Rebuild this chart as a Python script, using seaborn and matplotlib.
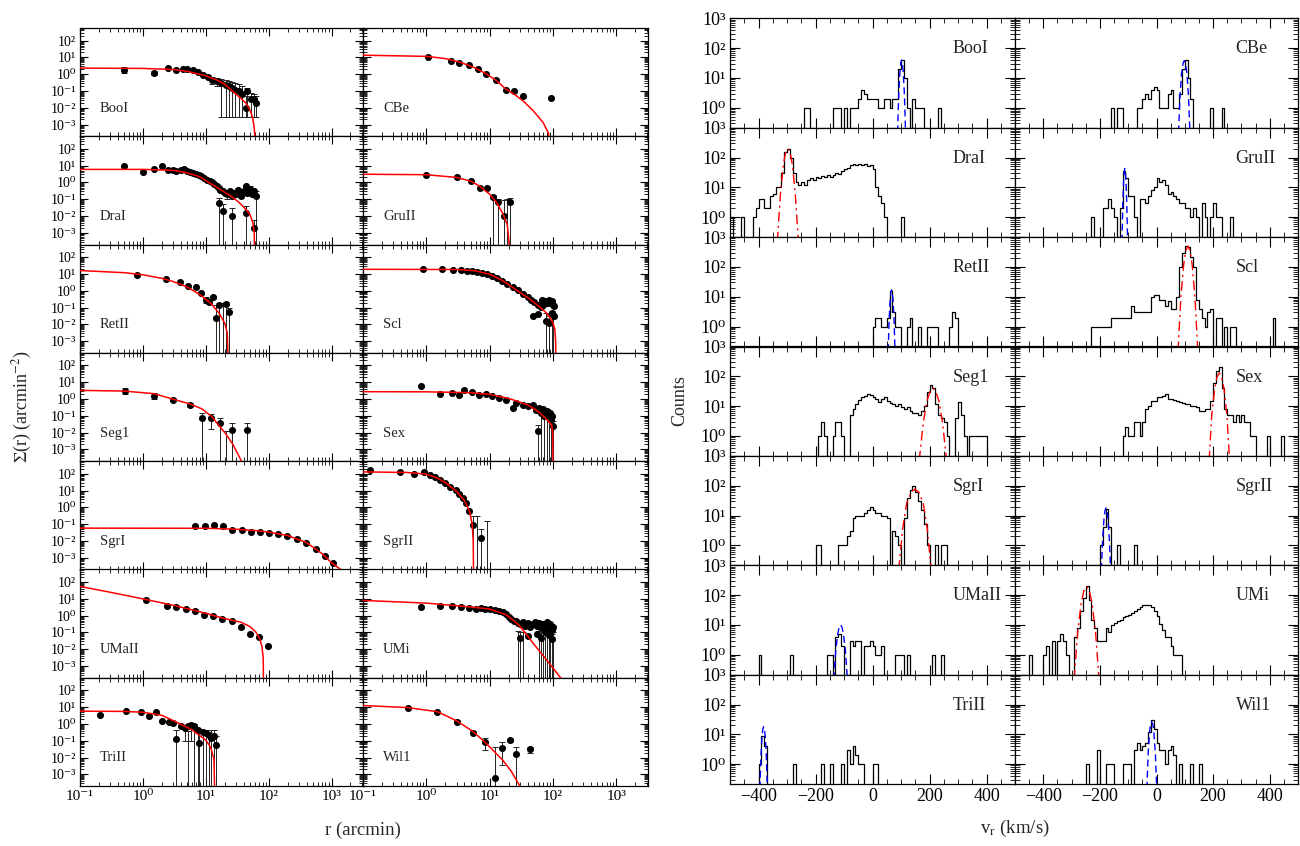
import numpy as np
import matplotlib
matplotlib.use("Agg")
import matplotlib.pyplot as plt
import seaborn as sns
from matplotlib.ticker import LogLocator, NullFormatter, MultipleLocator, FuncFormatter

sns.set_style("ticks")
plt.rcParams["font.family"] = ["Liberation Serif", "DejaVu Serif"]
plt.rcParams["mathtext.fontset"] = "stix"
plt.rcParams["axes.linewidth"] = 0.9
plt.rcParams["axes.edgecolor"] = "black"

# ===================== surface density profiles (left block) =====================
BOOI_R = [0.5, 1.5, 2.5, 3.4, 4.4, 5.1, 6.2, 7.4, 8.9, 10.7, 12.7, 15, 17.3, 20.8, 23.5, 26.5, 29.5, 33.5, 38, 43, 46, 52, 58, 62]
BOOI_S = [1.7, 1.2, 2.3, 1.7, 2.0, 1.9, 1.7, 1.3, 0.93, 0.68, 0.48, 0.38, 0.30, 0.24, 0.19, 0.15, 0.12, 0.10, 0.063, 0.01, 0.10, 0.032, 0.032, 0.02]
BOOI_EBR = [0.5, 1.5, 12.7, 15, 17.3, 20.8, 23.5, 26.5, 29.5, 33.5, 38, 43, 46, 52, 58, 62]
BOOI_EBLO = [1.1, 0.85, 0.25, 0.2, 0.003, 0.003, 0.003, 0.003, 0.003, 0.003, 0.003, 0.003, 0.003, 0.003, 0.003, 0.003]
BOOI_EBHI = [2.6, 1.6, 0.7, 0.6, 0.5, 0.45, 0.4, 0.35, 0.3, 0.25, 0.2, 0.05, 0.15, 0.08, 0.07, 0.05]
BOOI_FR = [0.1, 1, 3, 5, 10, 15, 20, 26.5, 35, 43, 50, 55, 58, 60, 61]
BOOI_FS = [2.3, 2.2, 1.9, 1.5, 0.8, 0.45, 0.25, 0.1, 0.04, 0.02, 0.008, 0.003, 0.001, 3e-4, 1e-5]

DRAI_R = [0.5, 1.0, 1.5, 2.0, 2.5, 3.0, 3.4, 4.0, 4.5, 5.0, 5.6, 6.3, 7.0, 7.8, 8.5, 9.5, 10.5, 11.5, 12.5, 13.5,
          15, 16, 17, 18.5, 20, 22, 24, 26, 28, 30, 33, 36, 40, 43, 46, 50, 55, 58, 62, 16, 18.7, 26, 43, 58]
DRAI_S = [9.1, 4.3, 6.1, 9.5, 5.3, 5.5, 4.8, 5.2, 6.2, 4.9, 4.5, 3.8, 3.3, 2.8, 2.3, 1.9, 1.5, 1.2, 1.0, 0.8,
          0.6, 0.45, 0.38, 0.30, 0.25, 0.2, 0.3, 0.15, 0.25, 0.2, 0.35, 0.15, 0.3, 0.6, 0.25, 0.4, 0.2, 0.3, 0.15,
          0.058, 0.021, 0.01, 0.015, 0.002]
DRAI_EBR = [16, 18.7, 22, 26, 33, 43, 50, 58, 62]
DRAI_EBLO = [1e-5, 1e-5, 0.1, 1e-5, 0.15, 1e-5, 0.2, 1e-5, 1e-5]
DRAI_EBHI = [0.12, 0.05, 0.3, 0.03, 0.5, 0.04, 0.6, 0.006, 0.3]
DRAI_FR = [0.1, 1, 3, 5, 8, 14, 20, 26, 33, 40, 50, 56, 59, 60]
DRAI_FS = [6.0, 6.0, 5.3, 3.8, 2.2, 0.6, 0.26, 0.14, 0.07, 0.035, 0.013, 0.004, 0.001, 1e-5]

RETII_R = [0.81, 2.3, 3.9, 5.2, 6.9, 8.5, 9.9, 11.2, 13.2, 14.5, 16.3, 20.8, 23.5]
RETII_S = [8.9, 5.0, 3.5, 1.9, 1.6, 0.76, 0.27, 0.22, 0.43, 0.025, 0.15, 0.17, 0.057]
RETII_EBR = [0.81, 9.9, 11.2, 13.2, 14.5, 16.3, 18.5, 20.8, 23.5]
RETII_EBLO = [7.5, 0.2, 0.17, 0.33, 1e-5, 1e-5, 1e-5, 1e-5, 1e-5]
RETII_EBHI = [10.5, 0.4, 0.3, 0.5, 0.15, 0.2, 0.2, 0.22, 0.1]
RETII_FR = [0.1, 0.5, 1, 2, 3, 5, 8, 12, 16, 20, 22, 23]
RETII_FS = [16, 12, 9, 5.5, 3.6, 1.7, 0.6, 0.18, 0.05, 0.012, 0.003, 1e-5]

SEG1_R = [0.52, 1.5, 3.0, 5.7, 8.7, 12.3, 16.6, 26, 46]
SEG1_S = [2.9, 1.6, 0.91, 0.43, 0.076, 0.076, 0.038, 0.014, 0.014]
SEG1_EBR = [0.52, 1.5, 3.0, 5.7, 8.7, 12.3, 16.6, 21, 26, 46]
SEG1_EBLO = [1.9, 1.0, 0.75, 0.35, 1e-5, 0.017, 1e-5, 1e-5, 1e-5, 1e-5]
SEG1_EBHI = [4.5, 2.2, 1.1, 0.55, 0.15, 0.13, 0.07, 0.013, 0.038, 0.038]
SEG1_FR = [0.1, 0.5, 1.5, 3, 5.7, 8.7, 12.3, 16.6, 21, 27, 37, 40]
SEG1_FS = [3.3, 3.0, 2.1, 1.0, 0.5, 0.26, 0.095, 0.024, 0.008, 0.002, 2e-4, 1e-4]

SGRI_R = [6.7, 9.6, 13.5, 18.8, 26, 37, 52, 72, 100, 141, 198, 283, 398, 560, 780, 1070]
SGRI_S = [0.083, 0.083, 0.095, 0.076, 0.042, 0.044, 0.035, 0.035, 0.030, 0.025, 0.021, 0.013, 0.0078, 0.0034, 0.00125, 0.00046]
SGRI_FR = [0.1, 10, 30, 60, 100, 200, 400, 700, 1000, 1400]
SGRI_FS = [0.058, 0.057, 0.05, 0.042, 0.034, 0.021, 0.008, 0.0018, 0.0005, 0.0002]

UMAII_R = [1.12, 2.4, 3.4, 4.8, 6.7, 9.3, 13.2, 18.2, 25.7, 36, 50, 71, 99]
UMAII_S = [9.0, 4.0, 3.2, 2.5, 1.8, 1.15, 0.91, 0.67, 0.47, 0.21, 0.083, 0.052, 0.015]
UMAII_FR = [0.1, 0.3, 1, 3, 10, 18, 26, 36, 50, 62, 71, 78, 82, 83]
UMAII_FS = [55, 25, 10, 4.2, 1.4, 0.74, 0.54, 0.41, 0.23, 0.11, 0.048, 0.015, 0.003, 1e-5]

TRIII_R = [0.21, 0.53, 0.95, 1.26, 1.6, 2.0, 2.6, 3.0, 3.4, 4.1, 4.6, 5.2, 5.8, 6.6, 7.4, 7.9, 8.9, 10, 11.2, 12, 13.7, 14.5]
TRIII_S = [3.2, 6.0, 4.9, 2.8, 5.0, 1.6, 1.4, 1.1, 0.12, 0.71, 0.56, 0.78, 0.89, 0.81, 0.45, 0.07, 0.35, 0.28, 0.22, 0.14, 0.19, 0.056]
TRIII_EBR = [3.4, 4.6, 5.2, 5.8, 6.6, 7.4, 7.9, 8.9, 10, 11.2, 12, 13.7, 14.5]
TRIII_EBLO = [1e-5, 0.1, 1e-5, 0.1, 1e-5, 1e-5, 1e-5, 1e-5, 1e-5, 1e-5, 1e-5, 1e-5, 1e-5]
TRIII_EBHI = [0.45, 0.9, 0.4, 1.1, 1.0, 0.5, 0.3, 0.45, 0.45, 0.35, 0.45, 0.45, 0.2]
TRIII_FR = [0.1, 0.5, 1, 2, 3.4, 6, 10, 12, 13.5, 14]
TRIII_FS = [5.8, 5.6, 5.0, 3.3, 1.3, 0.45, 0.11, 0.04, 0.008, 1e-5]

CBE_R = [1.07, 2.45, 3.3, 4.7, 6.6, 8.9, 12.6, 17.8, 24.5, 33.5, 93]
CBE_S = [10, 5.7, 4.4, 3.5, 2.0, 1.07, 0.44, 0.12, 0.093, 0.051, 0.037]
CBE_FR = [0.1, 1, 2, 3.5, 6, 9, 13, 18, 25, 34, 49, 70, 85, 88]
CBE_FS = [13.5, 11.5, 8.5, 5, 2.3, 1.0, 0.4, 0.13, 0.06, 0.025, 0.0065, 0.0013, 0.0003, 1e-5]

GRUII_R = [1.0, 3.0, 5.0, 7.0, 9.2, 11.4, 13.7, 16.6, 21]
GRUII_S = [2.9, 2.0, 1.2, 0.49, 0.45, 0.14, 0.072, 0.01, 0.072]
GRUII_EBR = [11.4, 13.7, 16.6, 19, 21]
GRUII_EBLO = [1e-5, 1e-5, 1e-5, 1e-5, 1e-5]
GRUII_EBHI = [0.17, 0.1, 0.09, 0.1, 0.12]
GRUII_FR = [0.1, 1, 3, 5, 7, 10, 13, 16, 19, 22]
GRUII_FS = [3.1, 2.9, 2.0, 1.2, 0.6, 0.2, 0.06, 0.015, 0.003, 1e-5]

SCL_R = [0.87, 1.74, 2.6, 3.5, 4.4, 5.3, 6.3, 7.6, 9.2, 11, 13.2, 15.8, 19, 23, 27.6, 33, 40, 45, 50, 57,
         64, 66, 70, 75, 80, 85, 90, 95, 100, 105, 48, 57, 78, 88, 95, 102]
SCL_S = [19, 19, 16.7, 16.7, 16, 15, 14, 11.7, 9.8, 7.5, 5.7, 4.0, 2.6, 1.6, 1.05, 0.67, 0.43, 0.30, 0.22, 0.14,
         0.11, 0.3, 0.15, 0.25, 0.18, 0.3, 0.2, 0.25, 0.15, 0.12, 0.03, 0.04, 0.015, 0.012, 0.05, 0.03]
SCL_EBR = [78, 85, 88, 95, 100]
SCL_EBLO = [1e-5, 1e-5, 1e-5, 1e-5, 1e-5]
SCL_EBHI = [0.05, 0.04, 0.03, 0.06, 0.05]
SCL_FR = [0.1, 3, 6, 10, 15, 20, 30, 45, 60, 80, 90, 100, 107, 110, 112]
SCL_FS = [19, 18.5, 15.5, 9.5, 4.6, 2.3, 0.8, 0.28, 0.12, 0.045, 0.025, 0.012, 0.005, 0.001, 1e-5]

SEX_R = [0.83, 1.66, 2.5, 3.25, 4.0, 5.2, 6.7, 8.6, 11, 14, 18, 23, 26, 33, 40, 48, 54, 57, 64, 73, 83, 94, 100, 60, 70, 80, 90, 97]
SEX_S = [6.2, 2.1, 2.3, 1.8, 3.3, 2.5, 1.8, 2.1, 1.45, 1.15, 0.91, 0.29, 0.57, 0.47, 0.37, 0.47, 0.23, 0.012, 0.15, 0.095, 0.12, 0.06, 0.024, 0.3, 0.25, 0.2, 0.15, 0.1]
SEX_EBR = [57, 64, 73, 80, 88, 94, 100]
SEX_EBLO = [1e-5, 1e-5, 1e-5, 1e-5, 1e-5, 1e-5, 1e-5]
SEX_EBHI = [0.03, 0.2, 0.15, 0.25, 0.2, 0.1, 0.05]
SEX_FR = [0.1, 1, 5, 10, 20, 40, 60, 80, 95, 99, 100.5]
SEX_FS = [2.75, 2.7, 2.4, 1.9, 1.1, 0.45, 0.17, 0.06, 0.03, 0.01, 1e-5]

SGRII_R = [0.13, 0.39, 0.65, 0.91, 1.15, 1.38, 1.66, 2.0, 2.4, 2.9, 3.25, 3.8, 4.3, 4.8, 5.5, 7.4]
SGRII_S = [173, 120, 100, 125, 87, 63, 44, 28, 16, 10.3, 6.5, 3.6, 1.8, 0.58, 0.095, 0.015]
SGRII_EBR = [5.5, 6.3, 7.4, 9.0]
SGRII_EBLO = [1e-5, 1e-5, 1e-5, 1e-5]
SGRII_EBHI = [0.3, 0.32, 0.05, 0.15]
SGRII_FR = [0.1, 0.5, 1, 1.5, 2, 3, 4, 4.8, 5.3, 5.5, 5.6]
SGRII_FS = [130, 120, 95, 55, 30, 9, 2.5, 0.6, 0.1, 0.01, 1e-5]

UMI_R = [0.83, 1.63, 2.5, 3.5, 4.7, 6.0, 7.2, 8.5, 10, 12, 14, 16, 18, 20, 22, 24, 26, 28, 30, 33,
         36, 40, 44, 48, 52, 56, 60, 65, 70, 75, 80, 85, 90, 95, 100, 30, 40, 55, 65, 75, 85, 95]
UMI_S = [3.2, 3.6, 3.6, 3.3, 2.8, 2.5, 3.0, 2.6, 2.4, 2.2, 2.0, 1.6, 1.2, 0.8, 0.6, 0.45, 0.5, 0.35, 0.3, 0.4,
         0.25, 0.35, 0.2, 0.3, 0.4, 0.25, 0.35, 0.2, 0.3, 0.25, 0.4, 0.2, 0.3, 0.15, 0.2, 0.05, 0.06, 0.08, 0.05, 0.1, 0.07, 0.04]
UMI_EBR = [28, 30, 33, 60, 65, 70, 75, 80, 85, 90, 95, 100]
UMI_EBLO = [1e-5, 1e-5, 1e-5, 1e-5, 1e-5, 1e-5, 1e-5, 1e-5, 1e-5, 1e-5, 1e-5, 1e-5]
UMI_EBHI = [0.12, 0.1, 0.1, 0.12, 0.15, 0.1, 0.12, 0.15, 0.1, 0.12, 0.08, 0.1]
UMI_FR = [0.1, 1, 5, 10, 18, 25, 30, 40, 48, 78, 126, 150]
UMI_FS = [8.1, 5.6, 3.3, 2.5, 1.15, 0.45, 0.23, 0.06, 0.024, 0.0025, 0.00025, 1e-4]

WIL1_R = [0.52, 1.48, 3.0, 5.5, 8.5, 12, 15.8, 20.8, 26.5, 44]
WIL1_S = [8.8, 4.9, 1.4, 0.31, 0.089, 0.00058, 0.036, 0.11, 0.017, 0.031]
WIL1_EBR = [0.52, 3.0, 5.5, 8.5, 12, 15.8, 20.8, 26.5, 44]
WIL1_EBLO = [7.5, 1.2, 0.25, 0.028, 1e-5, 0.0035, 0.09, 1e-5, 0.02]
WIL1_EBHI = [10.5, 1.65, 0.38, 0.14, 0.04, 0.08, 0.13, 0.045, 0.045]
WIL1_FR = [0.1, 0.5, 1.5, 3, 5.5, 8.5, 16, 22, 30]
WIL1_FS = [12.6, 9.5, 5.4, 1.55, 0.35, 0.08, 0.0072, 0.0015, 0.0002]

# ===================== velocity histograms (right block) =====================
# bin left edges (10 km/s bins) with non-zero counts, and the counts
H_BOOI_V = [-240, -230, -140, -130, -120, -100, -80, -70, -60, -50, -40, -30, -20, -10, 0, 10, 20, 30, 40, 50, 60, 70, 80, 90, 100, 110, 120, 140, 150, 160, 170, 230]
H_BOOI_N = [1, 1, 1, 1, 1, 1, 1, 1, 1, 2, 4, 3, 2, 2, 2, 2, 1, 1, 2, 2, 1, 2, 2, 20, 40, 10, 1, 2, 1, 1, 1, 1]
H_CBE_V = [-160, -140, -130, -70, -60, -50, -40, -30, -20, -10, 0, 10, 20, 30, 40, 50, 60, 70, 80, 90, 100, 110, 120, 190, 230]
H_CBE_N = [1, 1, 1, 1, 1, 2, 3, 2, 4, 5, 4, 1, 1, 1, 3, 4, 1, 1, 3, 20, 40, 10, 2, 1, 1]
H_DRAI_V = [-500, -460, -420, -410, -400, -390, -380, -370, -360, -350, -340, -330, -320, -310, -300, -290, -280, -270, -260, -250,
            -240, -230, -220, -210, -200, -190, -180, -170, -160, -150, -140, -130, -120, -110, -100, -90, -80, -70, -60, -50,
            -40, -30, -20, -10, 0, 10, 20, 30, 40, 100]
H_DRAI_N = [1, 1, 1, 2, 4, 4, 2, 2, 5, 6, 10, 10, 30, 150, 200, 100, 30, 15, 12, 15,
            12, 18, 20, 17, 22, 20, 24, 22, 25, 23, 25, 30, 28, 35, 40, 45, 55, 60, 58, 62,
            55, 60, 50, 55, 40, 10, 5, 3, 1, 1]
H_GRUII_V = [-230, -190, -180, -170, -160, -150, -130, -120, -110, -100, -90, -80, -60, -50, -40, -30, -20, -10, 0, 10,
             20, 30, 40, 50, 60, 70, 80, 90, 100, 110, 120, 130, 140, 160, 170, 190, 200, 210, 220, 260]
H_GRUII_N = [1, 2, 2, 4, 2, 1, 2, 35, 20, 5, 5, 1, 4, 4, 3, 5, 8, 10, 20, 15,
             17, 12, 6, 7, 5, 4, 3, 3, 2, 2, 1, 2, 1, 3, 1, 1, 3, 1, 1, 1]
H_RETII_V = [0, 10, 20, 30, 40, 50, 60, 70, 80, 90, 120, 130, 160, 190, 200, 210, 220, 270, 280, 290]
H_RETII_N = [1, 2, 2, 1, 1, 2, 15, 3, 1, 1, 1, 2, 1, 1, 1, 1, 1, 1, 3, 2]
H_SCL_V = [-230, -220, -210, -200, -190, -180, -170, -160, -150, -140, -130, -120, -110, -100, -90, -80, -70, -60, -50, -40,
           -30, -20, -10, 0, 10, 20, 30, 40, 50, 60, 70, 80, 90, 100, 110, 120, 130, 140, 150, 160,
           170, 180, 190, 210, 220, 240, 260, 270, 410]
H_SCL_N = [1, 1, 1, 1, 1, 1, 1, 2, 2, 2, 2, 2, 2, 2, 5, 3, 3, 3, 3, 3,
           3, 10, 11, 11, 8, 8, 5, 7, 4, 4, 10, 100, 300, 500, 450, 220, 100, 8, 4, 2,
           1, 3, 4, 2, 2, 1, 1, 1, 2]
H_SEG1_V = [-190, -180, -170, -140, -130, -120, -110, -80, -70, -60, -50, -40, -30, -20, -10, 0, 10, 20, 30, 40,
            50, 60, 70, 80, 90, 100, 110, 120, 130, 140, 150, 160, 170, 180, 190, 200, 210, 220, 230, 240,
            250, 260, 290, 300, 310, 320, 340, 350, 360, 370, 380, 390]
H_SEG1_N = [1, 3, 1, 1, 3, 3, 1, 5, 8, 12, 16, 20, 22, 26, 24, 20, 18, 14, 18, 20,
            15, 13, 12, 10, 12, 9, 8, 9, 7, 6, 6, 5, 7, 10, 30, 50, 40, 12, 5, 4,
            3, 1, 4, 14, 5, 1, 1, 1, 1, 1, 1, 1]
H_SEX_V = [-120, -110, -100, -90, -80, -70, -60, -50, -40, -30, -20, -10, 0, 10, 20, 30, 40, 50, 60, 70,
           80, 90, 100, 110, 120, 130, 140, 150, 160, 170, 180, 190, 200, 210, 220, 230, 240, 250, 260, 270,
           280, 290, 300, 310, 320, 330, 340, 390, 440]
H_SEX_N = [1, 2, 1, 1, 3, 3, 1, 3, 8, 10, 15, 15, 20, 20, 22, 25, 18, 17, 16, 15,
           14, 13, 12, 12, 10, 10, 9, 7, 7, 8, 8, 15, 60, 150, 210, 40, 8, 5, 5, 3,
           5, 3, 5, 3, 3, 1, 1, 1, 1]
H_SGRI_V = [-200, -190, -120, -110, -100, -90, -80, -70, -60, -50, -40, -30, -20, -10, 0, 10, 20, 30, 40, 50,
            70, 80, 90, 110, 120, 130, 140, 150, 160, 170, 180, 190, 220, 240, 250]
H_SGRI_N = [1, 1, 1, 1, 1, 2, 3, 8, 10, 10, 10, 12, 15, 20, 15, 12, 12, 10, 10, 8,
            3, 2, 1, 8, 40, 70, 100, 60, 30, 15, 5, 1, 1, 1, 1]
H_SGRII_V = [-200, -190, -180, -170, -140, -80]
H_SGRII_N = [1, 4, 17, 4, 1, 1]
H_UMAII_V = [-400, -290, -160, -150, -130, -120, -110, -80, -70, -60, -50, -30, -20, -10, 0, 10, 20, 30, 80, 90, 100, 120, 210, 240]
H_UMAII_N = [1, 1, 1, 1, 4, 5, 2, 3, 2, 3, 3, 2, 2, 3, 2, 1, 1, 2, 1, 1, 1, 1, 1, 1]
H_UMI_V = [-450, -400, -390, -370, -350, -340, -330, -320, -290, -280, -270, -260, -250, -240, -230, -220, -210, -200, -190, -180,
           -170, -160, -150, -140, -130, -120, -110, -100, -90, -80, -70, -60, -50, -40, -30, -20, -10, 0, 10, 20,
           30, 40, 50, 60, 70, 80]
H_UMI_N = [1, 1, 2, 3, 3, 5, 3, 1, 4, 8, 30, 80, 200, 70, 15, 8, 3, 3, 3, 8,
           6, 10, 12, 14, 15, 18, 20, 22, 25, 30, 35, 40, 45, 48, 45, 40, 30, 20, 11, 7,
           4, 4, 2, 1, 1, 1]
H_TRIII_V = [-400, -390, -380, -280, -180, -150, -110, -90, -80, -70, -60, -50, -40, 0, 10]
H_TRIII_N = [1, 9, 4, 1, 1, 1, 1, 3, 1, 4, 2, 1, 1, 1, 1]
H_WIL1_V = [-250, -210, -180, -170, -160, -120, -110, -100, -80, -70, -60, -50, -40, -30, -20, -10, 0, 10, 20, 30, 40, 50, 60, 80, 120, 150]
H_WIL1_N = [1, 3, 1, 1, 1, 1, 1, 1, 3, 5, 3, 4, 5, 12, 30, 15, 5, 3, 3, 1, 3, 4, 2, 1, 1, 1]

# Gaussian fits drawn over the histograms
G_BOOI_V = [88, 92, 96, 99, 102, 105, 108, 112, 116]
G_BOOI_N = [0.15, 2.7, 15, 31, 40, 31, 15, 2.7, 0.15]
G_CBE_V = [78, 83, 88.5, 93.5, 98, 102.5, 107.5, 113, 118]
G_CBE_N = [0.15, 2.5, 14, 30, 38, 30, 14, 2.5, 0.15]
G_DRAI_V = [-334, -323, -313, -305, -297, -289, -281, -271, -260]
G_DRAI_N = [0.15, 6, 56, 146, 200, 146, 56, 6, 0.15]
G_GRUII_V = [-122, -119, -116.3, -114.1, -112, -109.9, -107.7, -105, -102]
G_GRUII_N = [0.15, 2.8, 15, 33, 43, 33, 15, 2.8, 0.15]
G_RETII_V = [55, 58.4, 61.9, 64.4, 67, 69.6, 72.1, 75.6, 79]
G_RETII_N = [0.15, 1.8, 7.5, 14, 17, 14, 7.5, 1.8, 0.15]
G_SCL_V = [76, 86, 96, 103.5, 111, 118.5, 126, 136, 146]
G_SCL_N = [0.15, 9.3, 120, 350, 500, 350, 120, 9.3, 0.15]
G_SEG1_V = [164, 178, 191, 202, 212, 222, 233, 246, 260]
G_SEG1_N = [0.15, 2.7, 15, 31, 40, 31, 15, 2.7, 0.15]
G_SEX_V = [186, 195, 205.7, 214, 222, 230, 238.3, 249, 258]
G_SEX_N = [0.15, 4.8, 39, 96, 130, 96, 39, 4.8, 0.15]
G_SGRI_V = [92, 106, 120, 135, 149, 163, 178, 192, 206]
G_SGRI_N = [0.15, 3.7, 26, 59, 77, 59, 26, 3.7, 0.15]
G_SGRII_V = [-195, -190, -185.5, -182, -178.5, -175, -171.5, -167, -162]
G_SGRII_N = [0.15, 1.8, 7.9, 14.6, 18, 14.6, 7.9, 1.8, 0.15]
G_UMAII_V = [-136, -129, -122, -117, -112, -107, -102, -95, -88]
G_UMAII_N = [0.15, 1.4, 4.9, 8.4, 10, 8.4, 4.9, 1.4, 0.15]
G_UMI_V = [-291, -278.5, -266, -256.5, -247, -237.5, -228, -215.5, -203]
G_UMI_N = [0.15, 5.8, 55, 142, 195, 142, 55, 5.8, 0.15]
G_TRIII_V = [-395, -391.5, -388, -385, -382, -379, -376, -372.5, -369]
G_TRIII_N = [0.15, 1.8, 7.9, 14.6, 18, 14.6, 7.9, 1.8, 0.15]
G_WIL1_V = [-34, -29.5, -25, -21.5, -17, -12.5, -9, -4, 1]
G_WIL1_N = [0.15, 2.2, 10.6, 20.8, 26, 20.8, 10.6, 2.2, 0.15]

LEFT_COL = ["BooI", "DraI", "RetII", "Seg1", "SgrI", "UMaII", "TriII"]
RIGHT_COL = ["CBe", "GruII", "Scl", "Sex", "SgrII", "UMi", "Wil1"]
RED_FITS = ["DraI", "Seg1", "SgrI", "Scl", "Sex", "UMi"]

PROFILES = {
    "BooI": (BOOI_R, BOOI_S, BOOI_EBR, BOOI_EBLO, BOOI_EBHI, BOOI_FR, BOOI_FS),
    "DraI": (DRAI_R, DRAI_S, DRAI_EBR, DRAI_EBLO, DRAI_EBHI, DRAI_FR, DRAI_FS),
    "RetII": (RETII_R, RETII_S, RETII_EBR, RETII_EBLO, RETII_EBHI, RETII_FR, RETII_FS),
    "Seg1": (SEG1_R, SEG1_S, SEG1_EBR, SEG1_EBLO, SEG1_EBHI, SEG1_FR, SEG1_FS),
    "SgrI": (SGRI_R, SGRI_S, [], [], [], SGRI_FR, SGRI_FS),
    "UMaII": (UMAII_R, UMAII_S, [], [], [], UMAII_FR, UMAII_FS),
    "TriII": (TRIII_R, TRIII_S, TRIII_EBR, TRIII_EBLO, TRIII_EBHI, TRIII_FR, TRIII_FS),
    "CBe": (CBE_R, CBE_S, [], [], [], CBE_FR, CBE_FS),
    "GruII": (GRUII_R, GRUII_S, GRUII_EBR, GRUII_EBLO, GRUII_EBHI, GRUII_FR, GRUII_FS),
    "Scl": (SCL_R, SCL_S, SCL_EBR, SCL_EBLO, SCL_EBHI, SCL_FR, SCL_FS),
    "Sex": (SEX_R, SEX_S, SEX_EBR, SEX_EBLO, SEX_EBHI, SEX_FR, SEX_FS),
    "SgrII": (SGRII_R, SGRII_S, SGRII_EBR, SGRII_EBLO, SGRII_EBHI, SGRII_FR, SGRII_FS),
    "UMi": (UMI_R, UMI_S, UMI_EBR, UMI_EBLO, UMI_EBHI, UMI_FR, UMI_FS),
    "Wil1": (WIL1_R, WIL1_S, WIL1_EBR, WIL1_EBLO, WIL1_EBHI, WIL1_FR, WIL1_FS),
}
HISTS = {
    "BooI": (H_BOOI_V, H_BOOI_N, G_BOOI_V, G_BOOI_N),
    "DraI": (H_DRAI_V, H_DRAI_N, G_DRAI_V, G_DRAI_N),
    "RetII": (H_RETII_V, H_RETII_N, G_RETII_V, G_RETII_N),
    "Seg1": (H_SEG1_V, H_SEG1_N, G_SEG1_V, G_SEG1_N),
    "SgrI": (H_SGRI_V, H_SGRI_N, G_SGRI_V, G_SGRI_N),
    "UMaII": (H_UMAII_V, H_UMAII_N, G_UMAII_V, G_UMAII_N),
    "TriII": (H_TRIII_V, H_TRIII_N, G_TRIII_V, G_TRIII_N),
    "CBe": (H_CBE_V, H_CBE_N, G_CBE_V, G_CBE_N),
    "GruII": (H_GRUII_V, H_GRUII_N, G_GRUII_V, G_GRUII_N),
    "Scl": (H_SCL_V, H_SCL_N, G_SCL_V, G_SCL_N),
    "Sex": (H_SEX_V, H_SEX_N, G_SEX_V, G_SEX_N),
    "SgrII": (H_SGRII_V, H_SGRII_N, G_SGRII_V, G_SGRII_N),
    "UMi": (H_UMI_V, H_UMI_N, G_UMI_V, G_UMI_N),
    "Wil1": (H_WIL1_V, H_WIL1_N, G_WIL1_V, G_WIL1_N),
}

BIN_EDGES = np.arange(-500, 501, 10)

W, H = 1300, 846
fig = plt.figure(figsize=(13, 8.46), dpi=100)
fig.patch.set_facecolor("white")

SUP = str.maketrans("-0123456789", "\u207b\u2070\u00b9\u00b2\u00b3\u2074\u2075\u2076\u2077\u2078\u2079")


def pow10_label(val, pos):
    if val <= 0:
        return ""
    e = int(round(np.log10(val)))
    return "10" + str(e).translate(SUP)


def add_ax(x0, ytop, w, h):
    return fig.add_axes([x0 / W, 1 - (ytop + h) / H, w / W, h / H])


def style_log_axis(axis):
    axis.set_major_locator(LogLocator(base=10, numticks=30))
    axis.set_minor_locator(LogLocator(base=10, subs=np.arange(2, 10), numticks=30))
    axis.set_major_formatter(FuncFormatter(pow10_label))
    axis.set_minor_formatter(NullFormatter())


for c, names in enumerate([LEFT_COL, RIGHT_COL]):
    for r, name in enumerate(names):
        # ---------------- profile panel ----------------
        ax = add_ax([80, 363][c], 28 + r * 108.3, [283, 285][c], 108.3)
        R, S, EBR, EBLO, EBHI, FR, FS = PROFILES[name]
        sns.lineplot(x=FR, y=FS, ax=ax, color="red", lw=1.1, estimator=None, sort=False, zorder=4)
        if len(EBR):
            lo = np.array(EBLO)
            hi = np.array(EBHI)
            ax.errorbar(EBR, lo, yerr=[np.zeros_like(lo), hi - lo], fmt="none", ecolor="#222222",
                        elinewidth=0.7, capsize=2.5, capthick=0.7, zorder=2)
        sns.scatterplot(x=R, y=S, ax=ax, color="black", s=26, linewidth=0, zorder=3)
        ax.set_xscale("log")
        ax.set_yscale("log")
        ax.set_xlim(0.1, 10 ** 3.5)
        ax.set_ylim(10 ** -3.7, 10 ** 2.75)
        style_log_axis(ax.xaxis)
        style_log_axis(ax.yaxis)
        ax.tick_params(which="both", direction="in", top=True, right=True, bottom=True, left=True,
                       colors="black", pad=3)
        ax.tick_params(axis="y", which="major", labelsize=10)
        ax.tick_params(axis="x", which="major", labelsize=11)
        ax.tick_params(which="minor", labelleft=False, labelbottom=False)
        ax.tick_params(which="major", length=6, width=0.8)
        ax.tick_params(which="minor", length=3, width=0.6)
        if c == 1:
            ax.tick_params(which="both", labelleft=False)
        if r < 6:
            ax.tick_params(which="both", labelbottom=False)
        ax.set_xlabel("")
        ax.set_ylabel("")
        ax.text(0.07, 0.26, name, transform=ax.transAxes, fontsize=10.5, ha="left", va="center")

        # ---------------- histogram panel ----------------
        ax2 = add_ax([730, 1015][c], 18.3 + r * 109.4, [285, 283][c], 109.4)
        V, N, GV, GN = HISTS[name]
        counts = np.zeros(len(BIN_EDGES) - 1)
        counts[((np.array(V) + 500) // 10).astype(int)] = N
        step_y = np.append(counts, counts[-1])
        sns.lineplot(x=BIN_EDGES, y=step_y, ax=ax2, color="black", lw=0.9, drawstyle="steps-post",
                     estimator=None, sort=False)
        if name in RED_FITS:
            sns.lineplot(x=GV, y=GN, ax=ax2, color="red", lw=1.0, linestyle=(0, (7, 3, 1.5, 3)),
                         estimator=None, sort=False)
        else:
            sns.lineplot(x=GV, y=GN, ax=ax2, color="blue", lw=1.0, linestyle=(0, (5, 3)),
                         estimator=None, sort=False)
        ax2.set_yscale("log")
        ax2.set_xlim(-500, 500)
        ax2.set_ylim(10 ** -0.67, 1000)
        ax2.xaxis.set_major_locator(MultipleLocator(200))
        ax2.xaxis.set_minor_locator(MultipleLocator(50))
        style_log_axis(ax2.yaxis)
        ax2.tick_params(which="both", direction="in", top=True, right=True, bottom=True, left=True,
                        labelsize=13, colors="black", pad=3)
        ax2.tick_params(which="minor", labelleft=False, labelbottom=False)
        ax2.tick_params(which="major", length=7, width=0.8)
        ax2.tick_params(which="minor", length=3.5, width=0.6)
        if c == 1:
            ax2.tick_params(which="both", labelleft=False)
        if r < 6:
            ax2.tick_params(which="both", labelbottom=False)
        ax2.set_xlabel("")
        ax2.set_ylabel("")
        ax2.text(0.78, 0.72, name, transform=ax2.transAxes, fontsize=13, ha="left", va="center")

fig.text(22 / W, 1 - 407 / H, r"$\Sigma$(r) (arcmin$^{-2}$)", rotation=90, ha="center", va="center", fontsize=13)
fig.text(363 / W, 1 - 830 / H, "r (arcmin)", ha="center", va="center", fontsize=13.5)
fig.text(680 / W, 1 - 401 / H, "Counts", rotation=90, ha="center", va="center", fontsize=13)
fig.text(1015 / W, 1 - 828 / H, r"v$_{\rm r}$ (km/s)", ha="center", va="center", fontsize=13.5)

fig.savefig("out.png", dpi=100, facecolor="white")
